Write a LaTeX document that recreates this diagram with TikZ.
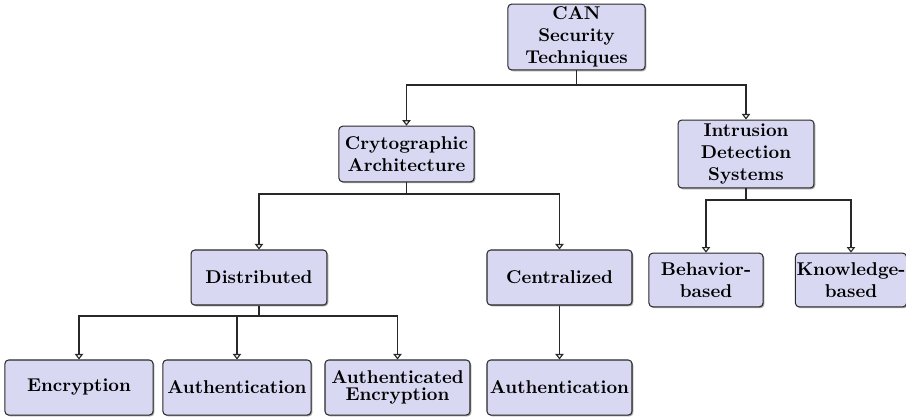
\documentclass[tikz,border=0pt]{standalone}
\usetikzlibrary{arrows.meta,shadows}
\definecolor{boxfill}{RGB}{216,216,242}
\definecolor{linecol}{RGB}{40,40,40}
\begin{document}
\begin{tikzpicture}[x=0.54pt,y=-0.54pt,
  box/.style={draw=linecol,line width=0.55pt,fill=boxfill,rounded corners=2pt,
    align=center,font=\bfseries,inner sep=0pt,
    drop shadow={shadow xshift=0.7pt,shadow yshift=-0.7pt,fill=black!45,opacity=0.8}},
  arr/.style={draw=linecol,line width=0.6pt,-{Triangle[open,width=4.5pt,length=3pt]}},
  ln/.style={draw=linecol,line width=0.6pt}]
\useasboundingbox (0,0) rectangle (906,417);
\node[box,minimum width=74pt,minimum height=35.6pt] (can) at (576.5,37) {CAN\\Security\\Techniques};
\node[box,minimum width=73pt,minimum height=30pt] (crypto) at (406.5,154) {Crytographic\\Architecture};
\node[box,minimum width=73.4pt,minimum height=36.7pt] (ids) at (746,154) {Intrusion\\Detection\\Systems};
\node[box,minimum width=73.4pt,minimum height=29.7pt] (dist) at (259,277.5) {Distributed};
\node[box,minimum width=78.3pt,minimum height=29.7pt] (cent) at (559.5,277.5) {Centralized};
\node[box,minimum width=61.6pt,minimum height=29pt] (beh) at (706,280) {Behavior-\\based};
\node[box,minimum width=60pt,minimum height=29pt] (know) at (851,280) {Knowledge-\\based};
\node[box,minimum width=80pt,minimum height=29.7pt] (enc) at (79,387.5) {Encryption};
\node[box,minimum width=80pt,minimum height=29.7pt] (auth) at (237,387.5) {Authentication};
\node[box,minimum width=78.3pt,minimum height=29.7pt] (ae) at (397.5,387.5) {Authenticated\\[-3pt]Encryption};
\node[box,minimum width=78.3pt,minimum height=29.7pt] (auth2) at (559.5,387.5) {Authentication};
\coordinate (j1) at (576.5,85);
\coordinate (j2) at (406.5,194);
\coordinate (j3) at (746,200);
\coordinate (j4) at (259,316);
\draw[ln] (can.south) -- (j1);
\draw[arr] (j1) -| (crypto.north);
\draw[arr] (j1) -| (ids.north);
\draw[ln] (crypto.south) -- (j2);
\draw[arr] (j2) -| (dist.north);
\draw[arr] (j2) -| (cent.north);
\draw[ln] (ids.south) -- (j3);
\draw[arr] (j3) -| (beh.north);
\draw[arr] (j3) -| (know.north);
\draw[ln] (dist.south) -- (j4);
\draw[arr] (j4) -| (enc.north);
\draw[arr] (j4) -| (auth.north);
\draw[arr] (j4) -| (ae.north);
\draw[arr] (cent.south) -- (auth2.north);
\end{tikzpicture}
\end{document}
